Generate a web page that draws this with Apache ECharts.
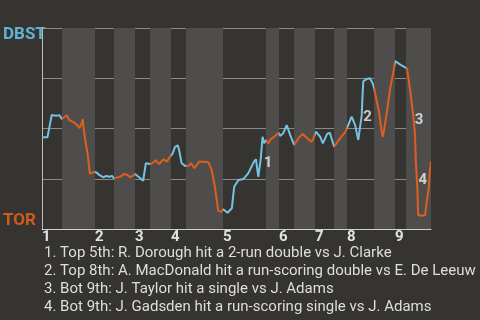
<!DOCTYPE html>
<html><head><meta charset="utf-8">
<script src="https://cdn.jsdelivr.net/npm/echarts@6/dist/echarts.min.js"></script>
<style>html,body{margin:0;padding:0;background:#363431;}#c{width:480px;height:320px;}</style>
</head><body><div id="c"></div>
<script>
// Game progress (% of plays elapsed) and DBST win probability (%)
const progress = [0,1.4,2.5,2.9,3.6,3.9,4.5,5.1,5.7,6.4,7.0,8.1,9.1,9.6,10.1,10.5,10.6,11.1,11.7,12.0,12.3,12.8,13.4,14.1,14.7,15.8,16.5,17.3,18.0,18.5,19.0,20.1,21.1,21.9,22.8,23.9,24.8,26.0,26.7,27.2,27.8,28.6,29.2,30.1,31.2,32.1,32.9,33.5,34.2,34.9,35.2,35.9,36.9,37.6,38.3,39.2,40.4,41.5,42.8,43.6,44.3,44.8,45.3,46.0,46.6,47.7,48.8,49.4,50.5,51.8,53.0,54.5,55.0,55.6,56.0,56.2,56.7,57.1,57.6,58.2,58.8,59.9,60.8,61.2,62.0,62.9,63.8,64.8,65.9,67.0,68.2,69.3,69.7,70.4,71.5,72.2,73.3,74.0,75.1,76.6,77.9,78.7,79.6,80.5,81.3,81.8,82.2,82.4,82.6,83.5,84.3,85.0,85.4,86.0,86.7,87.3,87.6,87.9,88.8,89.5,90.2,90.8,92.0,93.8,94.2,94.8,95.5,95.9,96.1,96.5,96.7,97.6,98.5,98.9,99.4,99.7,100];
const dbstWinPct = [45.6,45.6,56.7,55.9,56.4,55.9,56.6,54.7,55.6,56.6,54.2,53.2,51.6,50.2,52.2,54.6,51.7,44.3,37.8,32.8,27.4,26.9,28.5,28.0,26.9,25.7,26.4,26.0,26.4,25.2,24.4,26.0,27.4,26.9,25.7,27.4,26.0,24.0,32.7,33.5,32.3,33.0,34.3,32.3,34.7,33.5,36.0,37.3,40.9,41.6,39.7,32.7,31.3,31.3,32.7,30.2,33.5,33.5,33.2,29.4,22.7,16.1,9.0,8.6,9.8,8.1,10.3,21.0,24.4,24.9,27.7,33.5,34.7,26.0,25.2,34.3,45.9,42.6,44.3,42.6,44.6,46.3,47.9,46.3,47.6,51.7,46.8,41.8,45.1,47.3,45.1,43.4,44.6,48.4,45.9,42.6,47.3,47.9,40.9,45.1,48.1,51.7,55.9,51.7,44.3,43.8,56.7,66.7,73.6,74.6,75.0,72.5,70.0,64.2,57.6,48.8,45.9,48.8,60.0,70.0,76.6,83.6,81.9,79.9,75.0,66.7,55.1,46.8,33.5,20.2,7.0,6.6,7.0,13.6,20.2,28.5,33.5];
// Half-inning boundaries (top 1, bottom 1, top 2, ...)
const halfInningStarts = [0,5.14,13.62,18.51,23.91,27.76,33.16,37.02,46.53,57.58,60.93,64.78,70.18,75.06,78.41,85.35,90.75,93.57,100];
const inningLabels = ['1','2','3','4','5','6','7','8','9'];
// Key events
const eventProgress = [58.1,83.7,96.9,97.9];
const eventWinPct = [32.8,55.7,54.2,24.1];
const eventLabels = ['1','2','3','4'];
const eventTexts = [
  '1. Top 5th: R. Dorough hit a 2-run double vs J. Clarke',
  '2. Top 8th: A. MacDonald hit a run-scoring double vs E. De Leeuw',
  '3. Bot 9th: J. Taylor hit a single vs J. Adams',
  '4. Bot 9th: J. Gadsden hit a run-scoring single vs J. Adams'
];
const teamTop = 'DBST', teamBottom = 'TOR';

const BLUE = '#72c3e2', ORANGE = '#dc5f1d';
const inningStarts = halfInningStarts.filter((v,i)=>i%2===0 && i<18);
const pieces = [];
const stripes = [];
for (let i=0;i<18;i++){
  const p = {gte: halfInningStarts[i], color: i%2===0?BLUE:ORANGE};
  if (i<17) p.lt = halfInningStarts[i+1]; else p.lte = halfInningStarts[i+1];
  pieces.push(p);
  if (i%2===1) stripes.push([{xAxis: halfInningStarts[i]},{xAxis: halfInningStarts[i+1]}]);
}
const lineData = progress.map((x,i)=>[x, dbstWinPct[i]]);
const evData = eventProgress.map((x,i)=>[x, eventWinPct[i], eventLabels[i]]);

const chart = echarts.init(document.getElementById('c'));
chart.setOption({
  backgroundColor: '#363431',
  animation: false,
  grid: {left: 42, right: 49, top: 28, height: 201},
  xAxis: {
    type: 'value', min: 0, max: 100,
    splitLine: {show: false},
    axisTick: {show: false},
    axisLine: {show: true, lineStyle: {color: '#cfcfcf', width: 1}},
    axisLabel: {
      customValues: inningStarts,
      formatter: v => inningLabels[inningStarts.indexOf(v)],
      align: 'left', margin: 1, color: '#e2e2e2',
      fontFamily: 'Roboto', fontWeight: 'bold', fontSize: 15
    }
  },
  yAxis: {
    type: 'value', min: 0, max: 100, interval: 25,
    axisLabel: {show: false}, axisTick: {show: false},
    axisLine: {show: true, lineStyle: {color: '#bdbdbd'}},
    splitLine: {show: true, lineStyle: {color: '#8c8a88', width: 1}}
  },
  visualMap: {show: false, type: 'piecewise', dimension: 0, seriesIndex: 0, pieces: pieces},
  series: [
    {type: 'line', data: lineData, showSymbol: false, symbol: 'none', z: 5,
     lineStyle: {width: 2}},
    {type: 'line', data: [], silent: true, z: 1,
     markArea: {silent: true, itemStyle: {color: '#4f4d4b'}, data: stripes}},
    {type: 'scatter', data: evData, symbolSize: 0, z: 10, silent: true,
     label: {show: true, position: 'inside', formatter: p => p.value[2],
       color: '#f0f0f0', fontFamily: 'Roboto', fontWeight: 'bold', fontSize: 15}}
  ],
  graphic: [
    {type: 'text', left: 3, top: 26, style: {text: teamTop, fill: '#62b2d3', font: 'bold 17px Roboto'}},
    {type: 'text', left: 3, top: 212, style: {text: teamBottom, fill: '#d0591c', font: 'bold 17px Roboto'}},
    {type: 'text', left: 44, top: 244, style: {text: eventTexts.join('\n'), fill: '#dedede', font: '15px Roboto', lineHeight: 18}}
  ]
});
</script></body></html>
